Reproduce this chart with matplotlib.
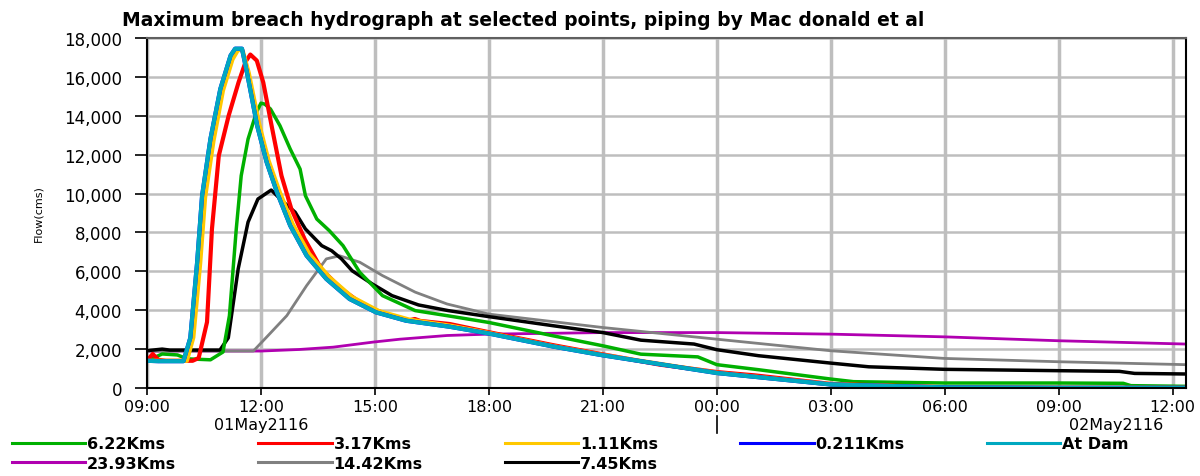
import matplotlib
matplotlib.use("Agg")
import matplotlib.pyplot as plt
import numpy as np

# hours after 09:00 on 01May2116
x_ticks = [0, 3, 6, 9, 12, 15, 18, 21, 24, 27]
x_tick_labels = ["09:00", "12:00", "15:00", "18:00", "21:00", "00:00",
                 "03:00", "06:00", "09:00", "12:00"]
y_ticks = [0, 2000, 4000, 6000, 8000, 10000, 12000, 14000, 16000, 18000]
x_end = 27.35

t_622 = [0, 0.4, 0.8, 1.05, 1.67, 2.0, 2.17, 2.35, 2.48, 2.66, 2.88, 3.0, 3.1, 3.25,
         3.5, 3.77, 4.03, 4.17, 4.47, 4.8, 5.16, 5.6, 6.2, 6.66, 7.06, 7.9, 9.0,
         10.7, 12.0, 13.0, 14.5, 15.0, 16.1, 18.0, 18.6, 21.0, 24.0, 25.7, 25.9, 27.35]
q_622 = [1400, 1750, 1700, 1500, 1450, 1850, 3720, 8180, 10920, 12800, 14180, 14650,
         14600, 14350, 13490, 12290, 11260, 9890, 8690, 8090, 7320, 5950, 4750, 4340,
         3980, 3720, 3370, 2680, 2170, 1740, 1600, 1200, 940, 460, 325, 256, 256, 240,
         120, 85]

t_317 = [0, 0.15, 0.3, 0.5, 1.2, 1.36, 1.58, 1.71, 1.89, 2.15, 2.41, 2.6, 2.72, 2.89,
         3.06, 3.28, 3.54, 3.8, 4.15, 4.59, 5.12, 5.73, 6.4, 6.9, 7.05, 7.19, 7.97,
         9.0, 10.7, 12.0, 13.5, 14.5, 15.0, 16.0, 18.0, 21.0, 24.0, 27.35]
q_317 = [1400, 1750, 1450, 1400, 1400, 1540, 3390, 8180, 11950, 14010, 15720, 16800,
         17150, 16840, 15720, 13490, 10920, 9210, 7660, 6120, 5090, 4230, 3720, 3480,
         3550, 3450, 3290, 2870, 2200, 1730, 1200, 950, 820, 650, 210, 40, 15, 10]

t_111 = [0, 1.05, 1.22, 1.4, 1.53, 1.75, 2.0, 2.25, 2.4, 2.52, 2.68, 2.95, 3.2, 3.48,
         3.83, 4.27, 4.8, 5.4, 6.1, 6.9, 8.0, 9.0, 10.7, 12.0, 15.0, 18.0, 21.0, 27.35]
q_111 = [1400, 1400, 2600, 6400, 9800, 12700, 15300, 16900, 17400, 17350, 16200,
         13600, 11700, 10150, 8450, 6900, 5700, 4680, 3960, 3520, 3200, 2830, 2150,
         1700, 785, 190, 30, 10]

t_dam = [0, 0.3, 0.96, 1.14, 1.32, 1.45, 1.67, 1.93, 2.2, 2.32, 2.5, 2.63, 2.9, 3.15,
         3.42, 3.77, 4.2, 4.72, 5.33, 6.03, 6.82, 7.97, 9.0, 10.7, 12.0, 15.0, 18.0,
         21.0, 24.0, 27.35]
q_dam = [1400, 1380, 1380, 2580, 6470, 9890, 12810, 15380, 17100, 17450, 17450, 16240,
         13490, 11610, 10070, 8350, 6810, 5610, 4580, 3890, 3460, 3150, 2800, 2130,
         1680, 770, 180, 30, 10, 10]

# 0.211 Kms lies under the "At Dam" curve
t_0211 = t_dam
q_0211 = q_dam

t_2393 = [0, 3.0, 4.0, 4.9, 5.95, 6.66, 7.9, 9.0, 12.0, 15.0, 18.0, 21.0, 24.0, 27.35]
q_2393 = [1900, 1900, 1980, 2100, 2360, 2510, 2700, 2770, 2850, 2850, 2770, 2630,
          2430, 2260]

t_1442 = [0, 2.8, 3.15, 3.68, 4.2, 4.72, 5.07, 5.6, 6.2, 7.06, 7.9, 9.0, 12.0, 15.0,
          18.0, 21.0, 24.0, 27.35]
q_1442 = [1900, 1900, 2620, 3720, 5260, 6640, 6800, 6470, 5780, 4930, 4320, 3800,
          3110, 2510, 1915, 1520, 1350, 1200]

t_745 = [0, 0.4, 0.6, 1.92, 2.14, 2.4, 2.66, 2.92, 3.27, 3.6, 3.9, 4.17, 4.6, 4.86,
         5.12, 5.4, 5.93, 6.45, 7.15, 7.93, 9.0, 10.7, 12.0, 13.0, 14.4, 15.0, 16.1,
         18.0, 19.0, 21.0, 24.0, 25.6, 26.0, 27.35]
q_745 = [1920, 2000, 1950, 1950, 2580, 6120, 8530, 9720, 10180, 9550, 9040, 8180,
         7320, 7060, 6640, 6030, 5350, 4750, 4270, 3980, 3670, 3200, 2850, 2460, 2260,
         1970, 1660, 1280, 1090, 960, 890, 855, 750, 720]

series = [
    ("23.93Kms", t_2393, q_2393, "#B000B0", 2.0),
    ("14.42Kms", t_1442, q_1442, "#808080", 2.0),
    ("7.45Kms", t_745, q_745, "#000000", 2.5),
    ("6.22Kms", t_622, q_622, "#00B000", 2.5),
    ("3.17Kms", t_317, q_317, "#FF0000", 3.0),
    ("1.11Kms", t_111, q_111, "#FFC800", 3.0),
    ("0.211Kms", t_0211, q_0211, "#0000FF", 3.0),
    ("At Dam", t_dam, q_dam, "#00A8C0", 3.0),
]
# column-major order so rows read like the original legend
legend_order = ["6.22Kms", "23.93Kms", "3.17Kms", "14.42Kms", "1.11Kms", "7.45Kms",
                "0.211Kms", "At Dam"]

plt.rcParams['font.family'] = ['DejaVu Sans']

fig = plt.figure(figsize=(12, 4.77), dpi=100)
ax = fig.add_axes([0.1225, 0.1845, 0.8658, 0.7337])

handles = {}
for name, t, q, color, lw in series:
    line, = ax.plot(t, q, color=color, lw=lw, label=name, solid_joinstyle='round')
    handles[name] = line

ax.set_xlim(0, x_end)
ax.set_ylim(0, 18000)
ax.set_xticks(x_ticks)
ax.set_xticklabels(x_tick_labels, fontsize=11.5)
ax.set_yticks(y_ticks)
ax.set_yticklabels([f"{v:,}" for v in y_ticks], fontsize=12)
ax.tick_params(axis='y', direction='out', length=9, width=1.2, pad=9)
ax.tick_params(axis='x', direction='out', length=5, width=1.2, pad=3)

ax.xaxis.grid(True, color='#BEBEBE', lw=2.5)
ax.yaxis.grid(True, color='#BEBEBE', lw=1.8)
ax.set_axisbelow(True)
for side in ['left', 'bottom', 'right']:
    ax.spines[side].set_color('black')
    ax.spines[side].set_linewidth(1.5)
ax.spines['top'].set_color('#606060')
ax.spines['top'].set_linewidth(1.5)

ax.set_ylabel("Flow(cms)", fontsize=8)
ax.yaxis.set_label_coords(-0.1, 0.5)

fig.text(0.102, 0.958, "Maximum breach hydrograph at selected points, piping by Mac donald et al",
         fontsize=13.5, fontweight='bold', ha='left', va='center')

# day labels and midnight separator
ax.text(3.0, -0.105, "01May2116", transform=ax.get_xaxis_transform(), ha='center',
        va='center', fontsize=11.5)
ax.text(25.5, -0.105, "02May2116", transform=ax.get_xaxis_transform(), ha='center',
        va='center', fontsize=11.5)
ax.plot([15, 15], [-0.08, -0.13], transform=ax.get_xaxis_transform(), color='black',
        lw=1.2, clip_on=False)

leg = fig.legend([handles[n] for n in legend_order], legend_order, ncol=5,
                 loc='upper left', bbox_to_anchor=(0.01, 0.083), frameon=False,
                 borderaxespad=0, borderpad=0, handlelength=4.6, handletextpad=0.1,
                 columnspacing=5.15, labelspacing=0.28,
                 prop={'weight': 'bold', 'size': 11.5})
for h in leg.get_lines():
    h.set_linewidth(2.2)

fig.savefig("out.png", dpi=100)
